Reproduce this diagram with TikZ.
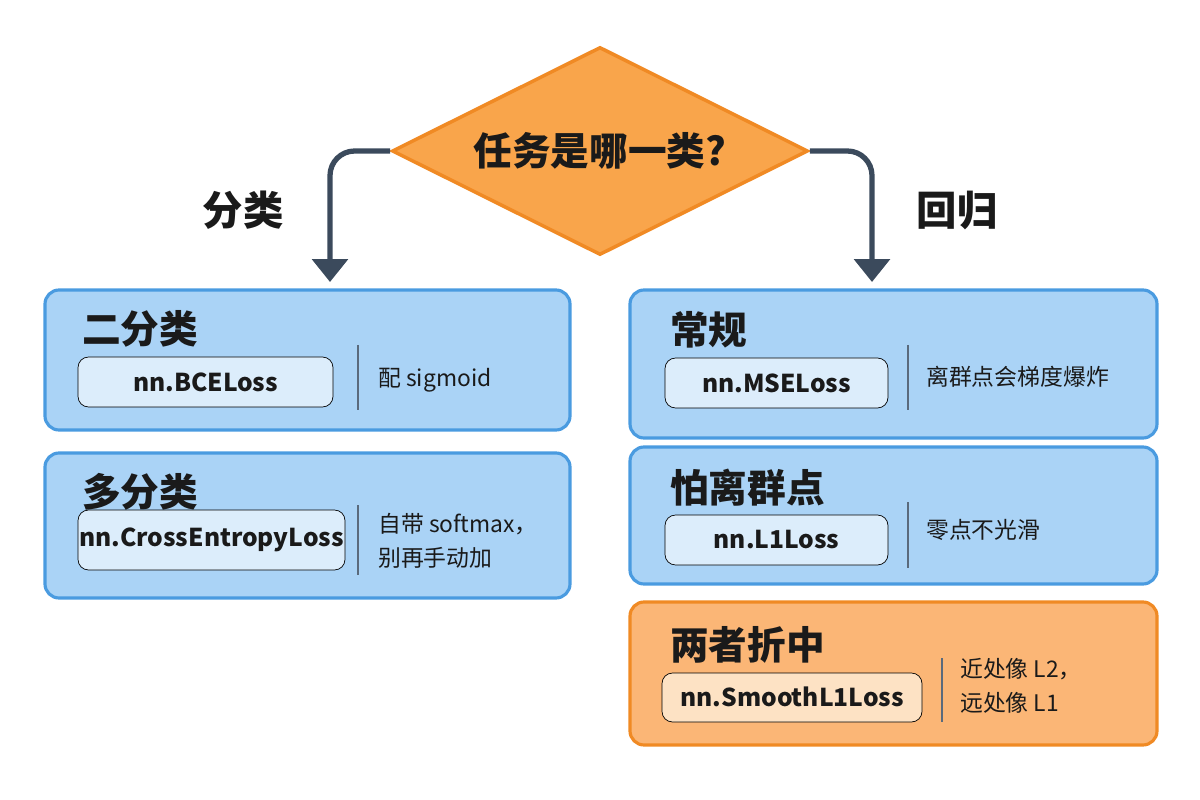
\documentclass[tikz,border=0pt]{standalone}
\usepackage{fontspec}
\setmainfont{Noto Sans CJK SC}
\usetikzlibrary{shapes.geometric,arrows.meta}
\definecolor{bfill}{HTML}{AAD3F6}
\definecolor{bline}{HTML}{4A9BE0}
\definecolor{bpill}{HTML}{DCEDFB}
\definecolor{ofill}{HTML}{FBB676}
\definecolor{oline}{HTML}{F08A24}
\definecolor{opill}{HTML}{FDE2C4}
\definecolor{dfill}{HTML}{F9A54B}
\definecolor{arr}{HTML}{3B4A5C}
\definecolor{sep}{HTML}{5A6A7C}
\definecolor{txt}{HTML}{1A1A1A}
\tikzset{
 box/.style={draw=bline,fill=bfill,line width=1.8pt,rounded corners=8pt},
 obox/.style={draw=oline,fill=ofill,line width=1.8pt,rounded corners=8pt},
 pill/.style={fill=bpill,rounded corners=6pt},
 opill/.style={fill=opill,rounded corners=6pt},
 ttl/.style={anchor=west,font=\fontsize{22}{26}\selectfont\bfseries,text=txt},
 code/.style={font=\fontsize{14}{17}\selectfont\bfseries,text=txt},
 note/.style={anchor=west,font=\fontsize{13}{19}\selectfont,text=txt,align=left},
 sepl/.style={draw=sep,line width=0.8pt},
 con/.style={draw=arr,line width=3pt,rounded corners=14pt,-{Triangle[length=13pt,width=20pt]}},
 lbl/.style={font=\fontsize{23}{26}\selectfont\bfseries,text=txt}
}
\begin{document}
\begin{tikzpicture}[x=0.02cm,y=-0.02cm]
\useasboundingbox (0,0) rectangle (1200,800);
\node[diamond,draw=oline,fill=dfill,line width=2pt,minimum width=416*0.02cm,minimum height=208*0.02cm,inner sep=0pt,aspect=2,font=\fontsize{22}{26}\selectfont\bfseries,text=txt] (q) at (600,151) {任务是哪一类?};
\coordinate (la) at (330,282);
\coordinate (ra) at (872,282);
\draw[con] (q.west) -| (la);
\draw[con] (q.east) -| (ra);
\node[lbl] (lc) at (243,210) {分类};
\node[lbl] (lr) at (957,210) {回归};
% left box 1
\draw[box] (45,290) rectangle (570,430);
\node[ttl] (t1) at (76,329) {二分类};
\draw[pill] (78,357) rectangle (333,407);
\node[code] (c1) at (205.5,382) {nn.BCELoss};
\draw[sepl] (358,345) -- (358,410);
\node[note] (n1) at (372,380) {配 sigmoid};
% left box 2
\draw[box] (45,453) rectangle (570,598);
\node[ttl] (t2) at (76,492) {多分类};
\draw[pill] (78,510) rectangle (345,570);
\node[code] (c2) at (211.5,540) {nn.CrossEntropyLoss};
\draw[sepl] (358,505) -- (358,575);
\node[note] (n2) at (372,541) {自带 softmax，\\别再手动加};
% right box 1
\draw[box] (630,290) rectangle (1157,438);
\node[ttl] (t3) at (664,330) {常规};
\draw[pill] (665,358) rectangle (888,408);
\node[code] (c3) at (776.5,383) {nn.MSELoss};
\draw[sepl] (908,345) -- (908,410);
\node[note] (n3) at (920,377) {离群点会梯度爆炸};
% right box 2
\draw[box] (630,447) rectangle (1157,584);
\node[ttl] (t4) at (664,488) {怕离群点};
\draw[pill] (665,515) rectangle (888,565);
\node[code] (c4) at (776.5,540) {nn.L1Loss};
\draw[sepl] (908,502) -- (908,568);
\node[note] (n4) at (920,530) {零点不光滑};
% orange box
\draw[obox] (630,602) rectangle (1157,745);
\node[ttl] (t5) at (664,645) {两者折中};
\draw[opill] (662,673) rectangle (922,722);
\node[code] (c5) at (792,697) {nn.SmoothL1Loss};
\draw[sepl] (942,658) -- (942,722);
\node[note] (n5) at (954,686) {近处像 L2，\\远处像 L1};
\end{tikzpicture}
\end{document}
